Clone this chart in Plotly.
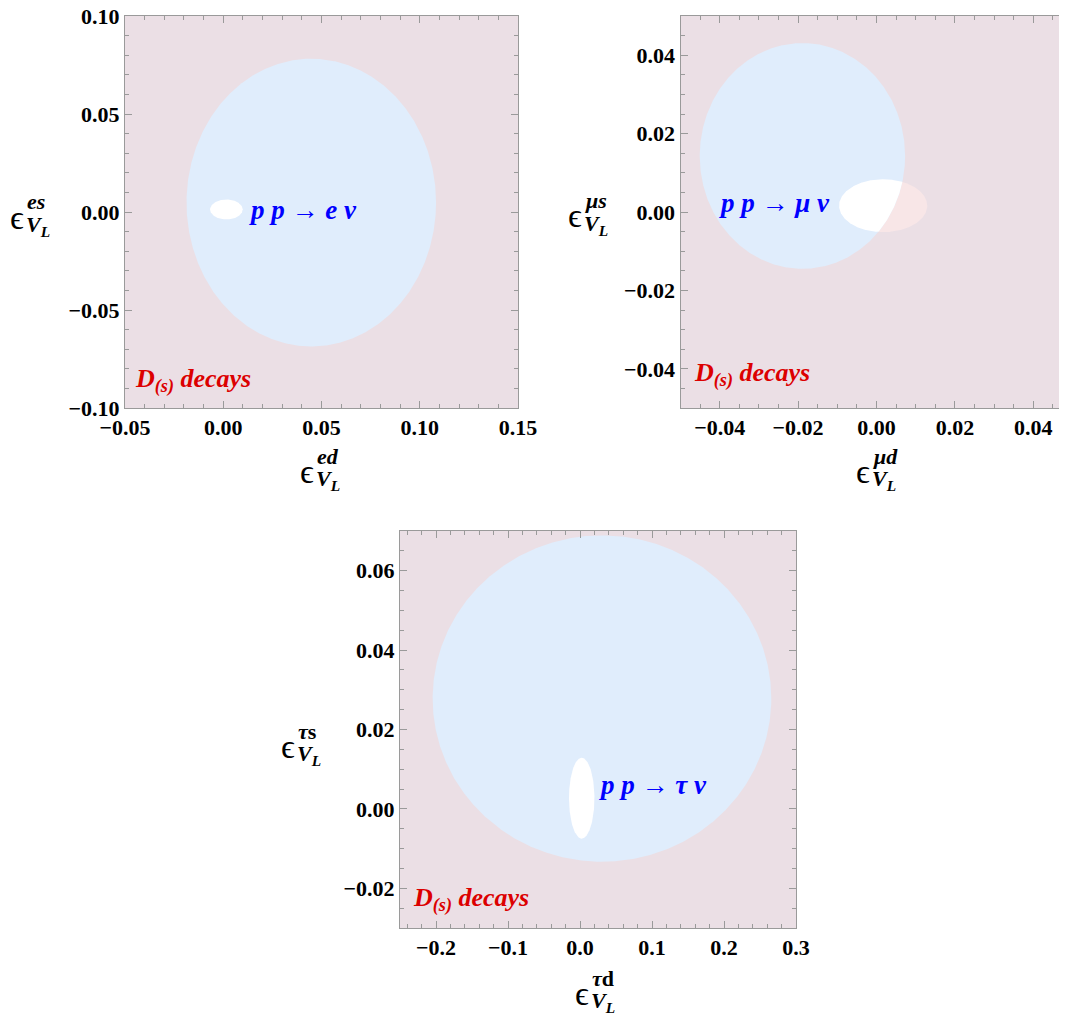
import numpy as np
import plotly.graph_objects as go

W, H = 1067, 1014
OFF = 8  # page body margin

# ---------------- data ----------------
x_ranges = [[-0.05, 0.15], [-0.05, 0.05], [-0.25, 0.30]]
y_ranges = [[-0.10, 0.10], [-0.05, 0.05], [-0.03, 0.07]]
x_major = [0.05, 0.02, 0.1]
x_minor = [0.01, 0.005, 0.02]
y_major = [0.05, 0.02, 0.02]
y_minor = [0.01, 0.005, 0.005]
x_fmt = [".2f", ".2f", ".1f"]
y_fmt = [".2f", ".2f", ".2f"]

# pp -> l nu allowed regions (centre x, centre y, semi-axis x, semi-axis y)
pp_cx = [0.0448, -0.0189, 0.0305]
pp_cy = [0.0048, 0.0143, 0.0278]
pp_rx = [0.0635, 0.0262, 0.2352]
pp_ry = [0.0734, 0.0288, 0.0411]

# D(s) decays allowed regions
d_cx = [0.0016, 0.0017, 0.0024]
d_cy = [0.0013, 0.0016, 0.0027]
d_rx = [0.0083, 0.01125, 0.0177]
d_ry = [0.0051, 0.00675, 0.0102]

pp_labels = ["p p → e ν", "p p → μ ν", "p p → τ ν"]
pp_label_x = [0.0122, -0.0408, 0.0230]
pp_label_y = [0.0010, 0.0022, 0.0060]
d_label = "D<sub>(s)</sub> decays"
d_label_x = [-0.0458, -0.0470, -0.235]
d_label_y = [-0.0862, -0.0415, -0.0229]

# axis titles: superscripts
y_sup = ["<i>es</i>", "<i>μs</i>", "<i>τ</i>s"]
x_sup = ["<i>ed</i>", "<i>μd</i>", "<i>τ</i>d"]

# ---------------- layout geometry (reference pixels) ----------------
panel_px = [  # left, right, top, bottom
    (125, 518, 16, 408),
    (680.5, 1072.5, 16, 408),
    (400, 796, 531, 928),
]
ytitle_px = [(17, 217), (575, 216), (288, 746)]
xtitle_px = [(307, 471), (863, 471), (582, 993)]

PINK = "rgb(235,223,229)"
BLUE = "rgb(224,237,252)"
PALE = "rgb(248,230,231)"
FRAME = "#9a9a9a"
FONT = "Liberation Serif"


def fx(px):
    return (px - OFF) / W


def fy(py):
    return 1 - (py - OFF) / H


def ellipse_pts(cx, cy, rx, ry, n=721):
    t = np.linspace(0, 2 * np.pi, n)
    return cx + rx * np.cos(t), cy + ry * np.sin(t)


def inside(x, y, cx, cy, rx, ry):
    return ((x - cx) / rx) ** 2 + ((y - cy) / ry) ** 2 <= 1.0


def intersection(a, b):
    ax, ay = ellipse_pts(*a)
    bx, by = ellipse_pts(*b)
    ma = inside(ax, ay, *b)
    mb = inside(bx, by, *a)
    px = np.concatenate([ax[ma], bx[mb]])
    py = np.concatenate([ay[ma], by[mb]])
    if len(px) == 0:
        return [], []
    c0, c1 = px.mean(), py.mean()
    order = np.argsort(np.arctan2(py - c1, px - c0))
    px, py = px[order], py[order]
    return list(px) + [px[0]], list(py) + [py[0]]


fig = go.Figure()
annotations = []
layout = {}

for i in range(3):
    xa = "x" if i == 0 else f"x{i+1}"
    ya = "y" if i == 0 else f"y{i+1}"
    big = (pp_cx[i], pp_cy[i], pp_rx[i], pp_ry[i])
    small = (d_cx[i], d_cy[i], d_rx[i], d_ry[i])

    sx, sy = ellipse_pts(*small)
    fig.add_trace(go.Scatter(x=sx, y=sy, mode="lines", fill="toself",
                             fillcolor=PALE, line=dict(width=0),
                             hoverinfo="skip", showlegend=False,
                             xaxis=xa, yaxis=ya))
    bx, by = ellipse_pts(*big)
    fig.add_trace(go.Scatter(x=bx, y=by, mode="lines", fill="toself",
                             fillcolor=BLUE, line=dict(width=0),
                             hoverinfo="skip", showlegend=False,
                             xaxis=xa, yaxis=ya))
    ix, iy = intersection(small, big)
    fig.add_trace(go.Scatter(x=ix, y=iy, mode="lines", fill="toself",
                             fillcolor="white", line=dict(width=0),
                             hoverinfo="skip", showlegend=False,
                             xaxis=xa, yaxis=ya))

    l, r, t, b = panel_px[i]
    xspan = x_ranges[i][1] - x_ranges[i][0]
    yspan = y_ranges[i][1] - y_ranges[i][0]
    xr = [x_ranges[i][0] - 1e-5 * xspan, x_ranges[i][1] + 1e-5 * xspan]
    yr = [y_ranges[i][0] - 1e-5 * yspan, y_ranges[i][1] + 1e-5 * yspan]
    common = dict(
        showgrid=False, zeroline=False, showline=True, linecolor=FRAME,
        linewidth=1, ticks="inside", ticklen=7, tickcolor=FRAME, tick0=0,
        automargin=False, mirror="ticks", ticklabeloverflow="allow",
        tickfont=dict(family=FONT, size=22, color="black", weight="bold"),
    )
    layout["xaxis" if i == 0 else f"xaxis{i+1}"] = dict(
        common, domain=[fx(l), fx(r)], range=xr, anchor=ya,
        dtick=x_major[i], tickformat=x_fmt[i],
        minor=dict(dtick=x_minor[i], tick0=0, ticks="inside", ticklen=4,
                   tickcolor=FRAME, showgrid=False),
    )
    layout["yaxis" if i == 0 else f"yaxis{i+1}"] = dict(
        common, domain=[fy(b), fy(t)], range=yr, anchor=xa,
        dtick=y_major[i], tickformat=y_fmt[i],
        minor=dict(dtick=y_minor[i], tick0=0, ticks="inside", ticklen=4,
                   tickcolor=FRAME, showgrid=False),
    )

    # in-plot labels
    annotations.append(dict(
        x=pp_label_x[i], y=pp_label_y[i], xref=xa, yref=ya,
        text=pp_labels[i], showarrow=False, xanchor="left", yanchor="middle",
        font=dict(family=FONT, size=27, color="rgb(0,0,255)",
                  weight="bold", style="italic")))
    annotations.append(dict(
        x=d_label_x[i], y=d_label_y[i], xref=xa, yref=ya,
        text=d_label, showarrow=False, xanchor="left", yanchor="middle",
        font=dict(family=FONT, size=26, color="rgb(220,0,0)",
                  weight="bold", style="italic")))

    # axis titles (epsilon with stacked super/subscripts)
    for (cx, cy), sup in ((ytitle_px[i], y_sup[i]), (xtitle_px[i], x_sup[i])):
        annotations.append(dict(
            x=fx(cx), y=fy(cy), xref="paper", yref="paper",
            text="ϵ", showarrow=False, xanchor="center", yanchor="middle",
            font=dict(family=FONT, size=34, color="black")))
        annotations.append(dict(
            x=fx(cx + 8), y=fy(cy - 15), xref="paper", yref="paper",
            text=f"<b>{sup}</b>", showarrow=False, xanchor="left",
            yanchor="middle",
            font=dict(family=FONT, size=22, color="black")))
        annotations.append(dict(
            x=fx(cx + 7), y=fy(cy + 9), xref="paper", yref="paper",
            text="<b><i>V<sub>L</sub></i></b>", showarrow=False,
            xanchor="left", yanchor="middle",
            font=dict(family=FONT, size=22, color="black")))

fig.update_layout(
    width=W, height=H, margin=dict(l=0, r=0, t=0, b=0, autoexpand=False),
    paper_bgcolor="white", plot_bgcolor=PINK, showlegend=False,
    annotations=annotations, **layout,
)

fig.write_html("out.html")
